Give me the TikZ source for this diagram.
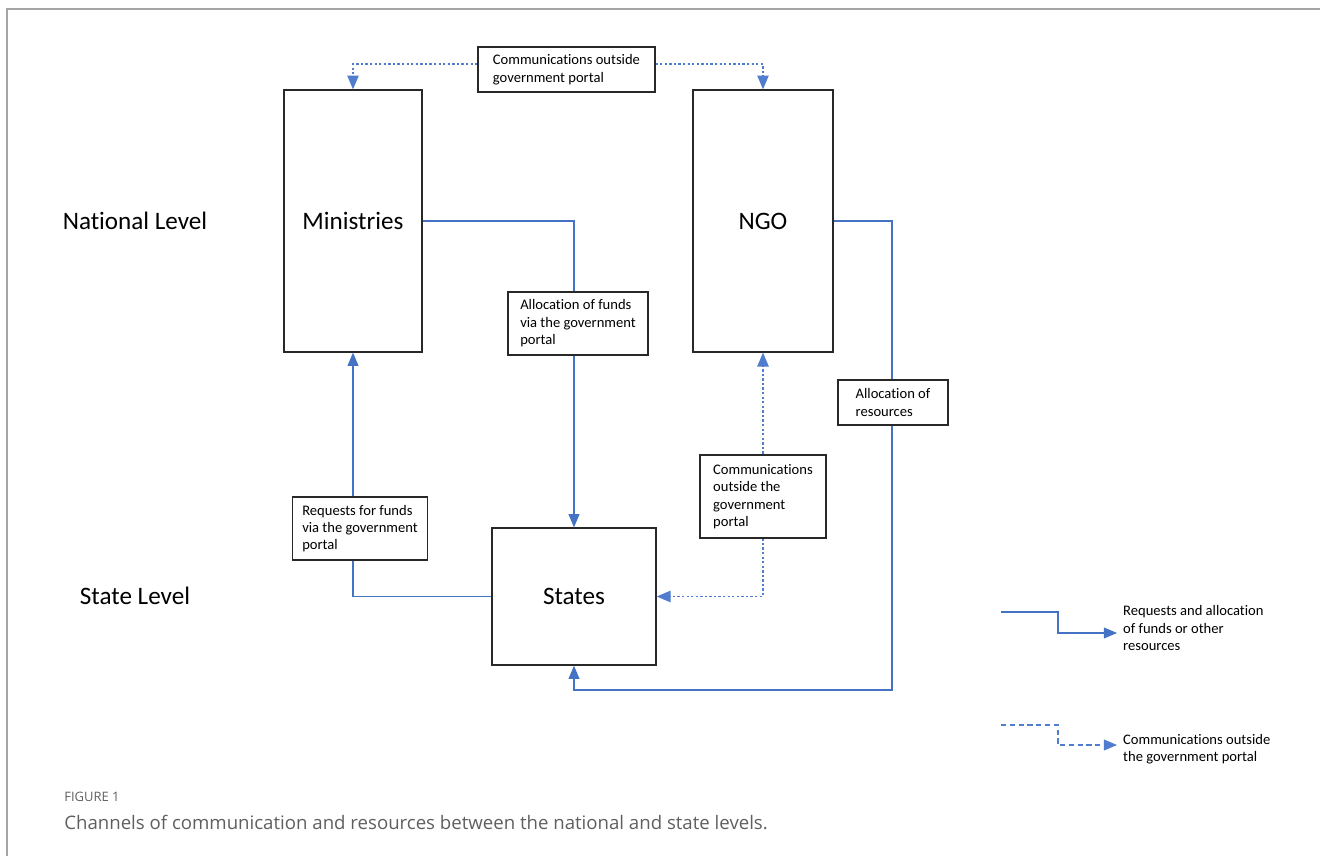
\documentclass[tikz,border=0pt]{standalone}
\usepackage{fontspec}
\setmainfont[Ligatures=NoCommon]{Carlito}
\newfontfamily\capfont{Open Sans}
\usetikzlibrary{arrows}
\usetikzlibrary{positioning}
\definecolor{lineblue}{RGB}{68,114,196}
\definecolor{dotblue}{RGB}{80,125,205}
\definecolor{boxgray}{RGB}{40,40,40}
\definecolor{framegray}{RGB}{165,165,165}
\definecolor{capgray}{RGB}{95,95,95}
\tikzset{
  unit/.style={draw=boxgray, line width=0.8pt, font=\fontsize{14.3}{17}\selectfont},
  note/.style={draw=boxgray, line width=0.7pt, fill=white, align=left,
    inner xsep=0.2cm, font=\fontsize{8.3}{9.9}\selectfont},
  level/.style={font=\fontsize{14.3}{17}\selectfont},
  legtext/.style={anchor=west, align=left, font=\fontsize{8.3}{9.9}\selectfont},
  flow/.style={lineblue, line width=0.7pt, >=triangle 45},
  comm/.style={dotblue, line width=0.8pt, dash pattern=on 1.3pt off 1.3pt, >=triangle 45},
  commleg/.style={dotblue, line width=0.7pt, dash pattern=on 3pt off 2pt, >=triangle 45}
}
\begin{document}
\begin{tikzpicture}[x=0.02cm, y=-0.02cm]
\useasboundingbox (0,0) rectangle (1320,856);
\draw[framegray, line width=1.2pt] (7,856) -- (7,9) -- (1320,9);

% levels
\node[level] (natl) at (135,221) {National Level};
\node[level] (statel) at (135,596) {State Level};

% main boxes
\node[unit, minimum width=2.76cm, minimum height=5.24cm] (min) at (353,221) {Ministries};
\node[unit, minimum width=2.8cm, minimum height=5.24cm] (ngo) at (763,221) {NGO};
\node[unit, minimum width=3.28cm, minimum height=2.74cm] (sta) at (574,596.5) {States};

% connectors
\coordinate (turn) at (892,690);
\draw[flow,->] (min.east) -| (sta.north);
\draw[flow,->] (sta.west) -| (min.south);
\draw[flow,->] (ngo.east) -| (turn) -| (sta.south);
\draw[comm,<->] (sta.east) -| (ngo.south);

% labels on the connectors
\node[note, minimum width=3.54cm, minimum height=0.9cm] (top) at (566.5,69.5)
  {Communications outside\\government portal};
\draw[comm,->] ([yshift=0.11cm]top.west) -| (min.north);
\draw[comm,->] ([yshift=0.11cm]top.east) -| (ngo.north);
\node[note, minimum width=2.8cm, minimum height=1.26cm] (alf) at (578,323.5)
  {Allocation of funds\\via the government\\portal};
\node[note, minimum width=2.4cm, minimum height=1.26cm] (req) at (360,528.5)
  {Requests for funds\\via the government\\portal};
\node[note, minimum width=2.2cm, minimum height=0.9cm] (alr) at (893,402.5)
  {Allocation of\\resources};
\node[note, minimum width=2.52cm, minimum height=1.66cm] (cot) at (763,496.5)
  {Communications\\outside the\\government\\portal};

% legend
\coordinate (legA) at (1001,612);
\coordinate (legB) at (1001,725);
\node[legtext] (leg1) at (1117,628) {Requests and allocation\\of funds or other\\resources};
\node[legtext] (leg2) at (1117,749) {Communications outside\\the government portal};
\draw[flow,->] (legA) -- ++(57,0) |- ([yshift=-0.1cm]leg1.west);
\draw[commleg,->] (legB) -- ++(57,0) |- ([yshift=0.08cm]leg2.west);

% caption
\node[anchor=west, inner sep=0pt, text=capgray, font=\capfont\fontsize{7.4}{9}\selectfont] (fig) at (64,797) {FIGURE 1};
\node[anchor=west, inner sep=0pt, text=capgray, font=\capfont\fontsize{10.6}{13}\selectfont] (cap) at (64,822)
  {Channels of communication and resources between the national and state levels.};
\end{tikzpicture}
\end{document}
